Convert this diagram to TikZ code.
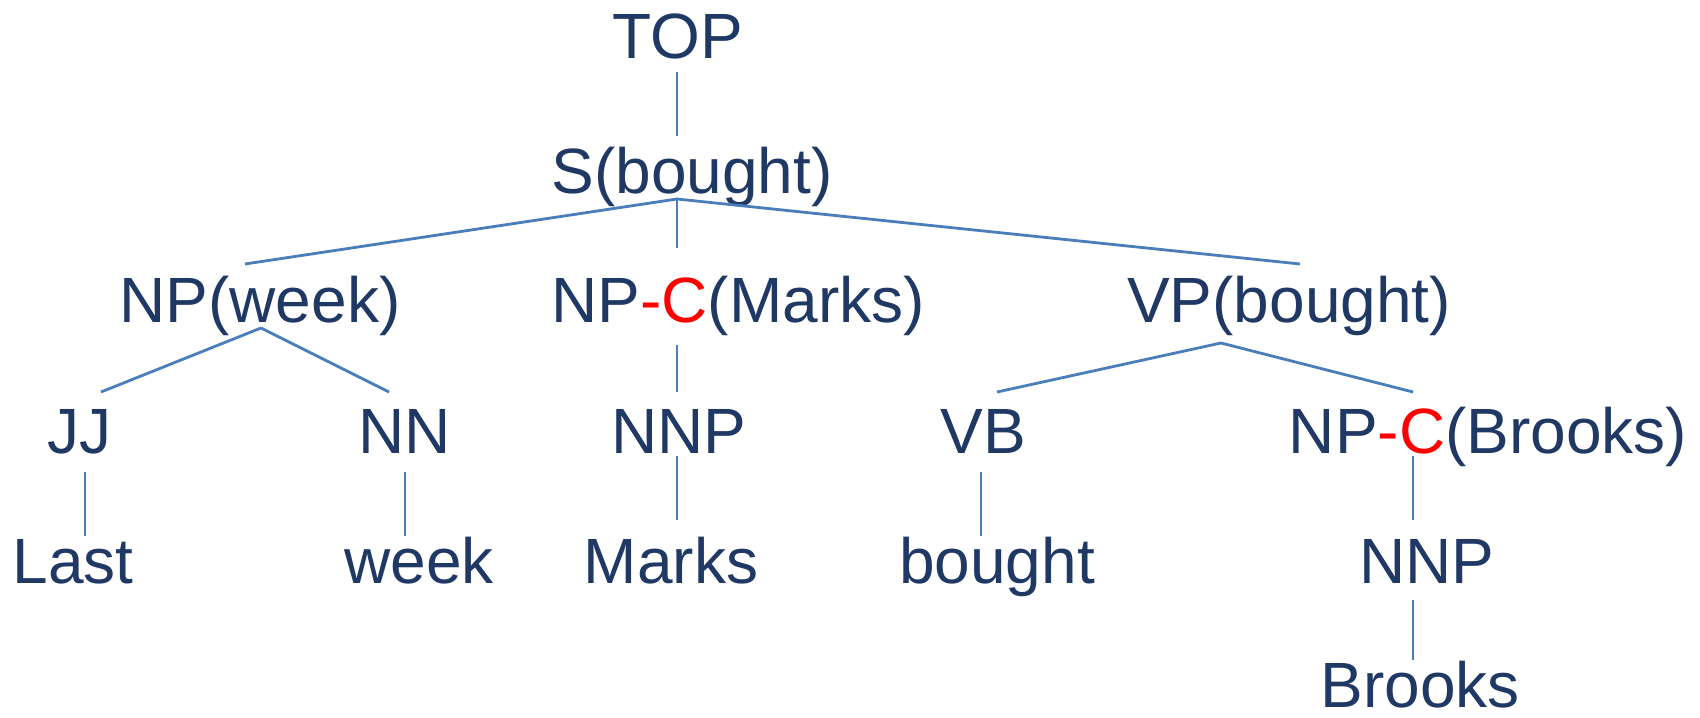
\documentclass[tikz,border=0pt]{standalone}
\usepackage{fontspec}
\setmainfont{Liberation Sans}
\definecolor{txt}{HTML}{1F3864}
\definecolor{ln}{HTML}{4A7EBB}
\definecolor{hl}{HTML}{FF0000}
\begin{document}
\begin{tikzpicture}[x=0.5pt,y=-0.5pt,
  lbl/.style={anchor=base, inner sep=0pt, text=txt, font=\fontsize{32}{38}\selectfont},
  edge/.style={draw=ln, line width=1.4pt}]
\useasboundingbox (0,0) rectangle (1700,717);
% labels
\node[lbl] (TOP) at (678,58.5) {TOP};
\node[lbl] (S) at (692,193) {S(bought)};
\node[lbl] (NPw) at (260,322.5) {NP(week)};
\node[lbl] (NPCm) at (738,322.5) {NP\textcolor{hl}{-C}(Marks)};
\node[lbl] (VP) at (1289,322.5) {VP(bought)};
\node[lbl] (JJ) at (79,453) {JJ};
\node[lbl] (NN) at (405,453) {NN};
\node[lbl] (NNPm) at (679,453) {NNP};
\node[lbl] (VB) at (983,453) {VB};
\node[lbl] (NPCb) at (1488,453) {NP\textcolor{hl}{-C}(Brooks)};
\node[lbl] (Last) at (73,583) {Last};
\node[lbl] (week) at (419,583) {week};
\node[lbl] (Marks) at (671,583) {Marks};
\node[lbl] (bought) at (997,583) {bought};
\node[lbl] (NNPb) at (1427,583) {NNP};
\node[lbl] (Brooks) at (1420,707) {Brooks};
% connector ends
\coordinate (TOP-b) at (677,72);
\coordinate (S-t) at (677,136);
\coordinate (S-b) at (677,199);
\coordinate (NPw-t) at (245,264);
\coordinate (NPCm-t) at (677,248);
\coordinate (VP-t) at (1300,264);
\coordinate (NPw-b) at (261,328);
\coordinate (JJ-t) at (101,392);
\coordinate (NN-t) at (389,392);
\coordinate (NPCm-b) at (677,345);
\coordinate (NNPm-t) at (677,392);
\coordinate (VP-b) at (1221,343);
\coordinate (VB-t) at (997,392);
\coordinate (NPCb-t) at (1413,392);
\coordinate (JJ-b) at (85,472);
\coordinate (Last-t) at (85,536);
\coordinate (NN-b) at (405,472);
\coordinate (week-t) at (405,536);
\coordinate (NNPm-b) at (677,456);
\coordinate (Marks-t) at (677,520);
\coordinate (VB-b) at (981,472);
\coordinate (bought-t) at (981,536);
\coordinate (NPCb-b) at (1413,456);
\coordinate (NNPb-t) at (1413,520);
\coordinate (NNPb-b) at (1413,600);
\coordinate (Brooks-t) at (1413,660);
% connectors
\draw[edge] (TOP-b) -- (S-t);
\draw[edge] (S-b) -- (NPw-t);
\draw[edge] (S-b) -- (NPCm-t);
\draw[edge] (S-b) -- (VP-t);
\draw[edge] (NPw-b) -- (JJ-t);
\draw[edge] (NPw-b) -- (NN-t);
\draw[edge] (NPCm-b) -- (NNPm-t);
\draw[edge] (VP-b) -- (VB-t);
\draw[edge] (VP-b) -- (NPCb-t);
\draw[edge] (JJ-b) -- (Last-t);
\draw[edge] (NN-b) -- (week-t);
\draw[edge] (NNPm-b) -- (Marks-t);
\draw[edge] (VB-b) -- (bought-t);
\draw[edge] (NPCb-b) -- (NNPb-t);
\draw[edge] (NNPb-b) -- (Brooks-t);
\end{tikzpicture}
\end{document}
